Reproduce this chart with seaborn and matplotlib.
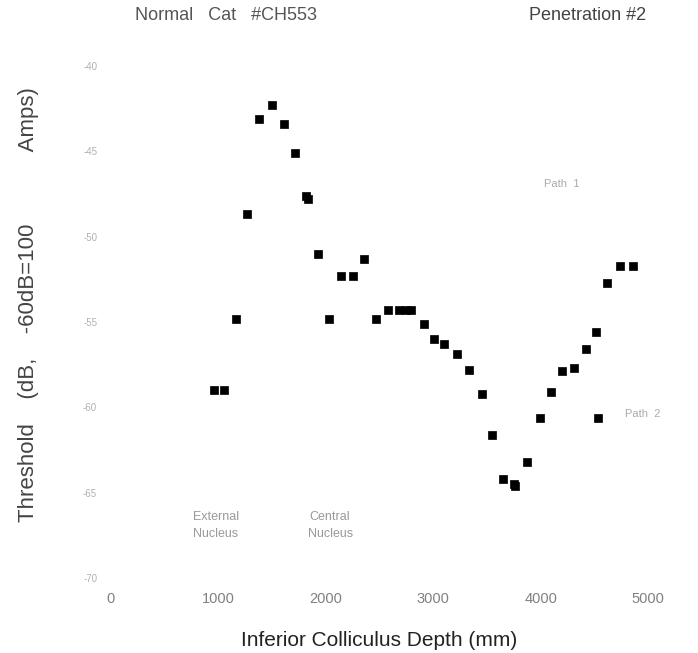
import matplotlib
matplotlib.use("Agg")
import matplotlib.pyplot as plt
import seaborn as sns
import pandas as pd

depth = [960, 1050, 1160, 1270, 1380, 1500, 1610, 1710, 1820, 1830, 1930, 2030, 2140,
         2250, 2360, 2470, 2580, 2680, 2750, 2790, 2910, 3010, 3100, 3220, 3330,
         3450, 3550, 3650, 3750, 3760, 3870, 3990, 4100, 4200, 4310, 4420, 4520, 4530,
         4620, 4740, 4860]
threshold = [-59.0, -59.0, -54.8, -48.7, -43.1, -42.3, -43.4, -45.1, -47.6, -47.8, -51.0,
             -54.8, -52.3, -52.3, -51.3, -54.8, -54.3, -54.3, -54.3, -54.3, -55.1, -56.0,
             -56.3, -56.9, -57.8, -59.2, -61.6, -64.2, -64.5, -64.6, -63.2, -60.6,
             -59.1, -57.9, -57.7, -56.6, -55.6, -60.6, -52.7, -51.7, -51.7]

x_ticks = [0, 1000, 2000, 3000, 4000, 5000]
x_tick_labels = ["0", "1000", "2000", "3000", "4000", "5000"]
y_ticks = [-70, -65, -60, -55, -50, -45, -40]
y_tick_labels = ["-70", "-65", "-60", "-55", "-50", "-45", "-40"]

df = pd.DataFrame({"depth": depth, "threshold": threshold})

sns.set_style("white")
plt.rcParams["font.family"] = ["Liberation Sans", "DejaVu Sans"]

fig = plt.figure(figsize=(6.98, 6.53), dpi=100)
ax = fig.add_axes([111 / 698, 1 - 578 / 653, (648 - 111) / 698, (578 - 66) / 653])

sns.scatterplot(data=df, x="depth", y="threshold", ax=ax, marker="s", s=40,
                color="black", edgecolor="black", linewidth=0.5)

ax.set_xlim(0, 5000)
ax.set_ylim(-70, -40)
ax.set_xticks(x_ticks)
ax.set_xticklabels(x_tick_labels, color="#808080", fontsize=10.5)
ax.set_yticks(y_ticks)
ax.set_yticklabels(y_tick_labels, color="#b0b0b0", fontsize=7)
ax.tick_params(axis="both", length=0)
ax.tick_params(axis="x", pad=10)
ax.tick_params(axis="y", pad=10)
for sp in ax.spines.values():
    sp.set_visible(False)

ax.set_xlabel("Inferior Colliculus Depth (mm)", fontsize=15, color="#222222", labelpad=18)
ax.set_ylabel("Threshold    (dB,    -60dB=100            Amps)", fontsize=16,
              color="#444444")
ax.yaxis.set_label_coords(-0.135, 0.535)

fig.text(226 / 698, 1 - 15 / 653, "Normal   Cat   #CH553", fontsize=13, color="#555555",
         ha="center", va="center")
fig.text(588 / 698, 1 - 15 / 653, "Penetration #2", fontsize=13, color="#444444",
         ha="center", va="center")

ax.text(0.84, 0.77, "Path  1", transform=ax.transAxes, fontsize=8, color="#aaaaaa",
        ha="center", va="center")
ax.text(0.99, 0.32, "Path  2", transform=ax.transAxes, fontsize=8, color="#aaaaaa",
        ha="center", va="center")
ax.text(0.195, 0.103, "External\nNucleus", transform=ax.transAxes, fontsize=9,
        color="#999999", ha="center", va="center", linespacing=1.6)
ax.text(0.408, 0.103, "Central\nNucleus", transform=ax.transAxes, fontsize=9,
        color="#999999", ha="center", va="center", linespacing=1.6)

fig.savefig("out.png", dpi=100, facecolor="white")
